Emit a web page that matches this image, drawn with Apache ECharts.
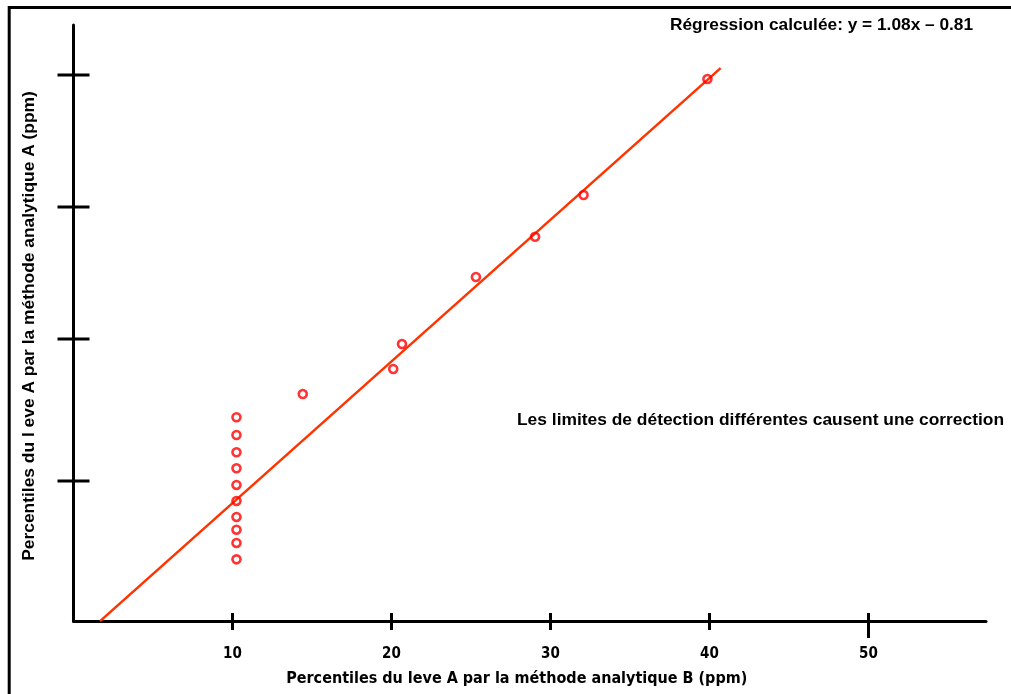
<!DOCTYPE html>
<html>
<head>
<meta charset="utf-8">
<script src="https://cdn.jsdelivr.net/npm/echarts@6/dist/echarts.min.js"></script>
<style>
html,body{margin:0;padding:0;background:#fff;}
#chart{width:1011px;height:694px;}
</style>
</head>
<body>
<div id="chart"></div>
<script>
// ---- Data ----
const methodB = [10.25, 10.25, 10.25, 10.25, 10.25, 10.25, 10.25, 10.25, 10.25, 10.25,
                 14.42, 20.11, 20.66, 25.31, 29.03, 32.08, 39.87];
const methodA = [16.53, 15.18, 13.86, 12.64, 11.37, 10.15, 8.93, 7.96, 6.95, 5.70,
                 18.30, 20.21, 22.11, 27.22, 30.29, 33.47, 42.31];
const xTicks = [10, 20, 30, 40, 50];
const yTicks = [11.67, 22.49, 32.55, 42.62];
const regSlope = 1.08;
const regIntercept = -0.81;
const regRange = [1.67, 40.7];

const xMin = 0, xMax = 57.39, yMin = 1, yMax = 46.43;

const points = methodB.map((x, i) => [x, methodA[i]]);
const regLine = regRange.map(x => [x, regSlope * x + regIntercept]);

const narrow = "'Liberation Sans Narrow','Arial Narrow','DejaVu Sans Condensed',sans-serif";
const sans = "'Liberation Sans',Arial,sans-serif";

const chart = echarts.init(document.getElementById('chart'), null, {renderer: 'canvas'});

function tickRenderer(dir) {
  return function (params, api) {
    const p = api.coord([api.value(0), api.value(1)]);
    if (dir === 'y') {
      return {type: 'line', shape: {x1: p[0] - 16, y1: p[1], x2: p[0] + 16, y2: p[1]},
              style: {stroke: '#000', lineWidth: 3}};
    }
    const down = params.dataIndex === xTicks.length - 1 ? 17 : 9;
    return {type: 'line', shape: {x1: p[0], y1: p[1] - 8, x2: p[0], y2: p[1] + down},
            style: {stroke: '#000', lineWidth: 3}};
  };
}

chart.setOption({
  animation: false,
  backgroundColor: '#fff',
  grid: {left: 73.5, right: 25, top: 25, bottom: 73, containLabel: false},
  xAxis: {
    type: 'value', min: xMin, max: xMax, interval: 10,
    axisLine: {show: true, onZero: false, lineStyle: {color: '#000', width: 3}},
    axisTick: {show: false},
    splitLine: {show: false},
    axisLabel: {show: true, showMinLabel: false, showMaxLabel: false, margin: 26,
                color: '#000', fontFamily: narrow, fontWeight: 'bold', fontSize: 15},
    name: 'Percentiles du leve A par la méthode analytique B (ppm)',
    nameLocation: 'middle', nameGap: 50,
    nameTextStyle: {color: '#000', fontFamily: narrow, fontWeight: 'bold', fontSize: 16,
                    padding: [0, 26, 0, 0]}
  },
  yAxis: {
    type: 'value', min: yMin, max: yMax,
    axisLine: {show: true, onZero: false, lineStyle: {color: '#000', width: 3}},
    axisTick: {show: false},
    splitLine: {show: false},
    axisLabel: {show: false},
    name: 'Percentiles du l eve A par la méthode analytique A (ppm)',
    nameLocation: 'middle', nameGap: 36, nameRotate: 90,
    nameTextStyle: {color: '#000', fontFamily: sans, fontWeight: 'bold', fontSize: 17.4,
                    padding: [0, 6, 0, 0]}
  },
  graphic: [
    {type: 'rect', silent: true, z: 100,
     shape: {x: 9.2, y: 7.5, width: 1200, height: 900},
     style: {fill: 'none', stroke: '#000', lineWidth: 3}},
    {type: 'text', left: 670, top: 17, z: 100,
     style: {text: 'Régression calculée: y = 1.08x – 0.81', fill: '#000',
             font: "bold 17.3px 'Liberation Sans', Arial, sans-serif"}},
    {type: 'text', left: 517, top: 412, z: 100,
     style: {text: 'Les limites de détection différentes causent une correction', fill: '#000',
             font: "bold 17.4px 'Liberation Sans', Arial, sans-serif"}}
  ],
  series: [
    {type: 'line', data: regLine, symbol: 'none', z: 2,
     lineStyle: {color: '#ff3300', width: 2.5}},
    {type: 'scatter', data: points, symbol: 'circle', symbolSize: 8, z: 3,
     itemStyle: {color: 'rgba(255,255,255,0)', borderColor: '#ff0000', borderWidth: 2.6}},
    {type: 'custom', data: yTicks.map(v => [xMin, v]), renderItem: tickRenderer('y'), z: 4, silent: true},
    {type: 'custom', data: xTicks.map(v => [v, yMin]), renderItem: tickRenderer('x'), z: 4, silent: true}
  ]
});
</script>
</body>
</html>
